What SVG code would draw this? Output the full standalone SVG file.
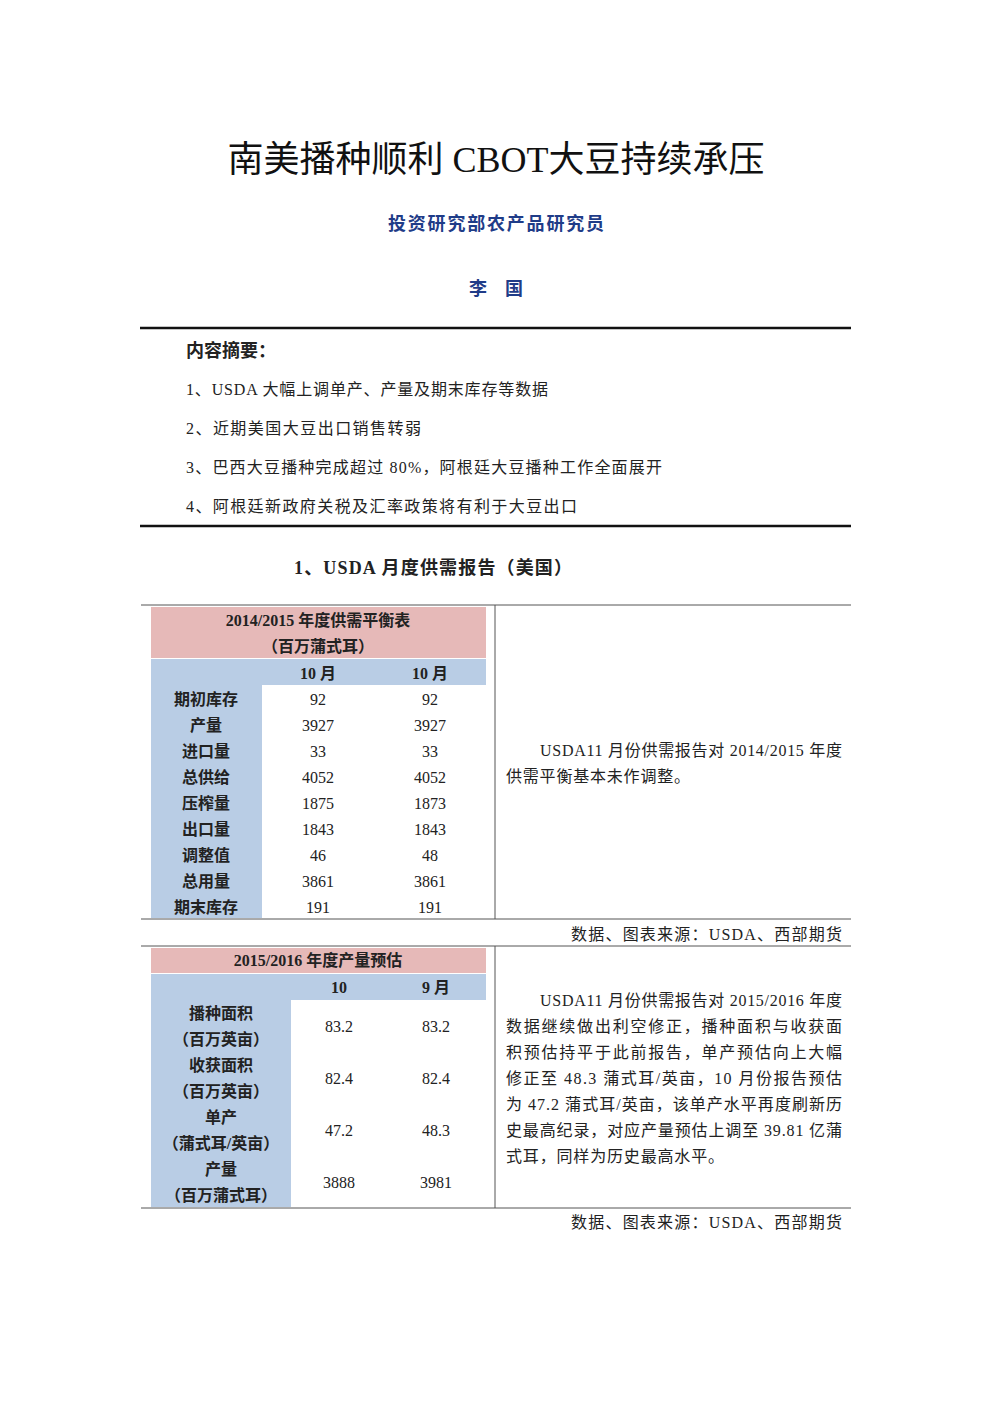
<svg xmlns="http://www.w3.org/2000/svg" width="992" height="1403" viewBox="0 0 992 1403">
<style>
.s{font-family:"Liberation Serif","Noto Sans CJK SC",serif;fill:#222}
.b{font-weight:bold}
.c{text-anchor:middle}
.pk{fill:#e6b9b8}
.bl{fill:#b9cde5}
.ln{stroke:#555;stroke-width:1;fill:none}
</style>
<rect width="992" height="1403" fill="#fff"/>
<g id="header">
<text class="s c" x="496" y="172" font-size="36" style="fill:#111">南美播种顺利 CBOT大豆持续承压</text>
<text class="s c b" x="496" y="230" font-size="18" style="fill:#1f3c88" textLength="216">投资研究部农产品研究员</text>
<text class="s c b" x="496" y="295" font-size="18" style="fill:#1f3c88">李　国</text>
</g>
<g id="summary">
<line x1="140" y1="328" x2="851" y2="328" stroke="#111" stroke-width="2.5"/>
<text class="s b" x="186" y="357" font-size="18">内容摘要：</text>
<text class="s" x="186" y="395" font-size="16" textLength="362">1、USDA 大幅上调单产、产量及期末库存等数据</text>
<text class="s" x="186" y="434" font-size="16" textLength="235">2、近期美国大豆出口销售转弱</text>
<text class="s" x="186" y="473" font-size="16" textLength="476">3、巴西大豆播种完成超过 80%，阿根廷大豆播种工作全面展开</text>
<text class="s" x="186" y="512" font-size="16" textLength="391">4、阿根廷新政府关税及汇率政策将有利于大豆出口</text>
<line x1="140" y1="526" x2="851" y2="526" stroke="#111" stroke-width="2.5"/>
<text class="s b c" x="433" y="574" font-size="18" textLength="278">1、USDA 月度供需报告（美国）</text>
</g>
<g id="table1">
<line class="ln" x1="141" y1="605" x2="851" y2="605"/>
<line class="ln" x1="141" y1="919" x2="851" y2="919"/>
<line class="ln" x1="495" y1="605" x2="495" y2="919"/>
<rect class="pk" x="151" y="607" width="335" height="51"/>
<rect class="bl" x="151" y="659" width="335" height="26"/>
<rect class="bl" x="151" y="685" width="111" height="233"/>
<text class="s b c" x="318" y="626" font-size="16">2014/2015 年度供需平衡表</text>
<text class="s b c" x="318" y="652" font-size="16">（百万蒲式耳）</text>
<text class="s b c" x="318" y="679" font-size="16">10 月</text>
<text class="s b c" x="430" y="679" font-size="16">10 月</text>
<g font-size="16">
<text class="s b c" x="206" y="705">期初库存</text><text class="s c" x="318" y="705">92</text><text class="s c" x="430" y="705">92</text>
<text class="s b c" x="206" y="731">产量</text><text class="s c" x="318" y="731">3927</text><text class="s c" x="430" y="731">3927</text>
<text class="s b c" x="206" y="757">进口量</text><text class="s c" x="318" y="757">33</text><text class="s c" x="430" y="757">33</text>
<text class="s b c" x="206" y="783">总供给</text><text class="s c" x="318" y="783">4052</text><text class="s c" x="430" y="783">4052</text>
<text class="s b c" x="206" y="809">压榨量</text><text class="s c" x="318" y="809">1875</text><text class="s c" x="430" y="809">1873</text>
<text class="s b c" x="206" y="835">出口量</text><text class="s c" x="318" y="835">1843</text><text class="s c" x="430" y="835">1843</text>
<text class="s b c" x="206" y="861">调整值</text><text class="s c" x="318" y="861">46</text><text class="s c" x="430" y="861">48</text>
<text class="s b c" x="206" y="887">总用量</text><text class="s c" x="318" y="887">3861</text><text class="s c" x="430" y="887">3861</text>
<text class="s b c" x="206" y="913">期末库存</text><text class="s c" x="318" y="913">191</text><text class="s c" x="430" y="913">191</text>
</g>
<text class="s" x="540" y="756" font-size="16" textLength="302">USDA11 月份供需报告对 2014/2015 年度</text>
<text class="s" x="506" y="782" font-size="16" textLength="184">供需平衡基本未作调整。</text>
<text class="s" x="571" y="940" font-size="16" textLength="271">数据、图表来源：USDA、西部期货</text>
</g>
<g id="table2">
<line class="ln" x1="141" y1="946" x2="851" y2="946"/>
<line class="ln" x1="141" y1="1208" x2="851" y2="1208"/>
<line class="ln" x1="495" y1="946" x2="495" y2="1208"/>
<rect class="pk" x="151" y="948" width="335" height="25"/>
<rect class="bl" x="151" y="974" width="335" height="26"/>
<rect class="bl" x="151" y="1000" width="140" height="207"/>
<text class="s b c" x="318" y="966" font-size="16">2015/2016 年度产量预估</text>
<text class="s b c" x="339" y="993" font-size="16">10</text>
<text class="s b c" x="436" y="993" font-size="16">9 月</text>
<g font-size="16">
<text class="s b c" x="221" y="1019">播种面积</text><text class="s b c" x="221" y="1045">（百万英亩）</text>
<text class="s c" x="339" y="1032">83.2</text><text class="s c" x="436" y="1032">83.2</text>
<text class="s b c" x="221" y="1071">收获面积</text><text class="s b c" x="221" y="1097">（百万英亩）</text>
<text class="s c" x="339" y="1084">82.4</text><text class="s c" x="436" y="1084">82.4</text>
<text class="s b c" x="221" y="1123">单产</text><text class="s b c" x="221" y="1149">（蒲式耳/英亩）</text>
<text class="s c" x="339" y="1136">47.2</text><text class="s c" x="436" y="1136">48.3</text>
<text class="s b c" x="221" y="1175">产量</text><text class="s b c" x="221" y="1201">（百万蒲式耳）</text>
<text class="s c" x="339" y="1188">3888</text><text class="s c" x="436" y="1188">3981</text>
</g>
<g font-size="16" class="s">
<text class="s" x="540" y="1006" textLength="302">USDA11 月份供需报告对 2015/2016 年度</text>
<text class="s" x="506" y="1032" textLength="336">数据继续做出利空修正，播种面积与收获面</text>
<text class="s" x="506" y="1058" textLength="336">积预估持平于此前报告，单产预估向上大幅</text>
<text class="s" x="506" y="1084" textLength="336">修正至 48.3 蒲式耳/英亩，10 月份报告预估</text>
<text class="s" x="506" y="1110" textLength="336">为 47.2 蒲式耳/英亩，该单产水平再度刷新历</text>
<text class="s" x="506" y="1136" textLength="336">史最高纪录，对应产量预估上调至 39.81 亿蒲</text>
<text class="s" x="506" y="1162" textLength="218">式耳，同样为历史最高水平。</text>
</g>
<text class="s" x="571" y="1228" font-size="16" textLength="271">数据、图表来源：USDA、西部期货</text>
</g>
</svg>
